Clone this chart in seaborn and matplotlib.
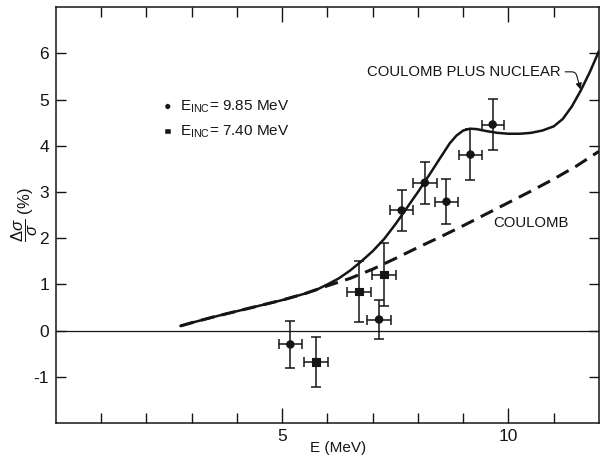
import numpy as np
import pandas as pd
import matplotlib
matplotlib.use("Agg")
import matplotlib.pyplot as plt
import seaborn as sns

# measured points (E in MeV, delta sigma / sigma in %)
e_points = [5.18, 5.75, 6.70, 7.14, 7.25, 7.64, 8.15, 8.63, 9.16, 9.65]
ds_points = [-0.30, -0.68, 0.84, 0.24, 1.21, 2.60, 3.20, 2.79, 3.81, 4.46]
ds_err = [0.50, 0.55, 0.66, 0.43, 0.68, 0.44, 0.45, 0.48, 0.55, 0.56]
e_err = [0.26, 0.26, 0.26, 0.26, 0.26, 0.25, 0.26, 0.25, 0.25, 0.24]
beam = ["9.85", "7.40", "7.40", "9.85", "7.40", "9.85", "9.85", "9.85", "9.85", "9.85"]

# calculated curves
e_coul = [2.75, 3.0, 3.5, 4.0, 4.5, 5.0, 5.5, 6.0, 6.5, 7.0, 7.5, 8.0, 8.5, 9.0,
          9.5, 10.0, 10.5, 11.0, 11.5, 12.0]
ds_coul = [0.10, 0.17, 0.30, 0.42, 0.54, 0.66, 0.80, 0.97, 1.13, 1.33, 1.56, 1.80,
           2.03, 2.27, 2.52, 2.77, 3.02, 3.28, 3.56, 3.88]
e_nuc = [2.75, 3.0, 3.5, 4.0, 4.5, 5.0, 5.5, 5.75, 6.0, 6.25, 6.5, 6.75, 7.0, 7.25,
         7.5, 7.75, 8.0, 8.25, 8.5, 8.7, 8.85, 9.0, 9.15, 9.3, 9.5, 9.75, 10.0,
         10.25, 10.5, 10.75, 11.0, 11.2, 11.4, 11.6, 11.8, 12.0]
ds_nuc = [0.10, 0.17, 0.30, 0.42, 0.54, 0.66, 0.80, 0.88, 1.00, 1.13, 1.30, 1.50,
          1.72, 1.98, 2.30, 2.65, 3.00, 3.37, 3.75, 4.05, 4.22, 4.33, 4.37, 4.36,
          4.32, 4.28, 4.26, 4.26, 4.28, 4.33, 4.42, 4.58, 4.85, 5.20, 5.60, 6.05]

ink = "#151515"

sns.set_style("ticks")
plt.rcParams["font.family"] = ["Liberation Sans", "DejaVu Sans"]
plt.rcParams["mathtext.fontset"] = "custom"
plt.rcParams["mathtext.rm"] = "Liberation Sans"
plt.rcParams["mathtext.it"] = "Liberation Sans:italic"

fig = plt.figure(figsize=(6, 4.58), dpi=100)
ax = fig.add_axes([0.0933, 0.0764, 0.905, 0.908])

ax.axhline(0, color=ink, lw=0.9, zorder=1)

coul = pd.DataFrame({"E": e_coul, "ds": ds_coul})
nuc = pd.DataFrame({"E": e_nuc, "ds": ds_nuc})
sns.lineplot(data=coul, x="E", y="ds", ax=ax, color=ink, lw=2.2,
             linestyle=(0, (4.5, 2.5)), sort=False, estimator=None)
sns.lineplot(data=nuc, x="E", y="ds", ax=ax, color=ink, lw=1.8,
             sort=False, estimator=None)

ax.errorbar(e_points, ds_points, xerr=e_err, yerr=ds_err, fmt="none",
            ecolor=ink, elinewidth=1.1, capsize=3.5, capthick=1.1, zorder=3)
pts = pd.DataFrame({"E": e_points, "ds": ds_points, "beam": beam})
sns.scatterplot(data=pts, x="E", y="ds", style="beam",
                markers={"9.85": "o", "7.40": "s"}, color=ink, s=28,
                edgecolor=ink, linewidth=0.8, legend=False, ax=ax, zorder=4)

# legend drawn as text
sns.scatterplot(x=[2.47, 2.47], y=[4.85, 4.31], style=["9.85", "7.40"],
                markers={"9.85": "o", "7.40": "s"}, color=ink, s=16,
                legend=False, ax=ax)
ax.text(2.73, 4.85, r"$\mathrm{E_{INC}}$= 9.85 MeV", fontsize=11, va="center", color=ink)
ax.text(2.73, 4.31, r"$\mathrm{E_{INC}}$= 7.40 MeV", fontsize=11, va="center", color=ink)

ax.annotate("COULOMB PLUS NUCLEAR", xy=(11.59, 5.22), xytext=(6.87, 5.6),
            fontsize=10.7, va="center", ha="left", color=ink,
            arrowprops=dict(arrowstyle="-|>", color=ink, lw=0.8,
                            connectionstyle="angle,angleA=0,angleB=105,rad=4",
                            shrinkA=1, shrinkB=0, mutation_scale=9))
ax.text(9.67, 2.32, "COULOMB", fontsize=10.7, va="center", ha="left", color=ink)

ax.set_xlim(0, 12)
ax.set_ylim(-2, 7)
ax.set_xticks([5, 10])
ax.set_xticks([1, 2, 3, 4, 6, 7, 8, 9, 11], minor=True)
ax.set_yticks([-1, 0, 1, 2, 3, 4, 5, 6])
ax.set_yticklabels(["-1", "0", "1", "2", "3", "4", "5", "6"])
ax.tick_params(axis="both", which="both", direction="in", top=True, right=True,
               colors=ink, labelsize=12.5, width=1.0)
ax.tick_params(axis="x", which="major", length=11, pad=4)
ax.tick_params(axis="x", which="minor", length=7)
ax.tick_params(axis="y", which="major", length=7, pad=5)
for s in ax.spines.values():
    s.set_color(ink)
    s.set_linewidth(1.1)

ax.set_xlabel("E (MeV)", fontsize=11, color=ink)
ax.xaxis.set_label_coords(0.52, -0.043)
ax.set_ylabel(r"$\dfrac{\Delta\sigma}{\sigma}$ (%)", fontsize=12, color=ink)
ax.yaxis.set_label_coords(-0.03, 0.5)

fig.savefig("out.png", dpi=100)
